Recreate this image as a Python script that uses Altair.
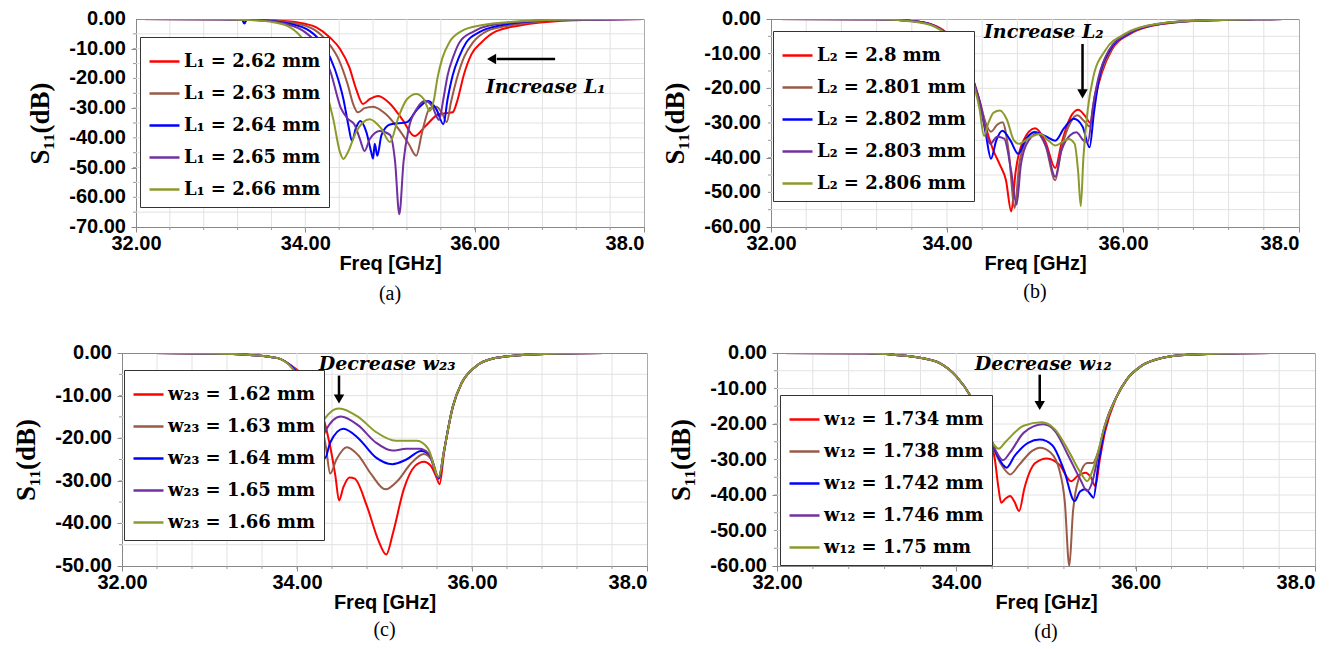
import altair as alt
import pandas as pd

SERIF = "Liberation Serif"
MATH = "DejaVu Serif"
SANS = "Liberation Sans"
COLORS = ["#FF0000", "#9A5A48", "#0000FF", "#7030A0", "#8C9A2C"]

X_LABELS = [32.0, 34.0, 36.0, 38.0]
X_GRID = [32.4, 32.8, 33.2, 33.6, 34.0, 34.4, 34.8, 35.2, 35.6, 36.0, 36.4, 36.8, 37.2, 37.6]
Y_LABELS_70 = [0, -10, -20, -30, -40, -50, -60, -70]
Y_TEXT_70 = ["0.00", "-10.00", "-20.00", "-30.00", "-40.00", "-50.00", "-60.00", "-70.00"]
Y_LABELS_60 = [0, -10, -20, -30, -40, -50, -60]
Y_TEXT_60 = ["0.00", "-10.00", "-20.00", "-30.00", "-40.00", "-50.00", "-60.00"]
Y_LABELS_50 = [0, -10, -20, -30, -40, -50]
Y_TEXT_50 = ["0.00", "-10.00", "-20.00", "-30.00", "-40.00", "-50.00"]
Y_GRID_70 = [-5, -10, -15, -20, -25, -30, -35, -40, -45, -50, -55, -60, -65]
Y_GRID_60 = [-5, -10, -15, -20, -25, -30, -35, -40, -45, -50, -55]
Y_GRID_50 = [-5, -10, -15, -20, -25, -30, -35, -40, -45]

# ---------------- panel (a) ----------------
A_LABELS = ["L₁ = 2.62 mm", "L₁ = 2.63 mm", "L₁ = 2.64 mm", "L₁ = 2.65 mm", "L₁ = 2.66 mm"]
A_262 = [(32.0, 0), (33.0, -0.05), (33.5, -0.3), (33.9, -1.1), (34.13, -2.8), (34.29, -6.2),
         (34.41, -10.1), (34.52, -16.3), (34.6, -23.6), (34.68, -28.6), (34.76, -27.0),
         (34.86, -25.9), (35.0, -28.5), (35.15, -34.0), (35.29, -39.4), (35.42, -36.0),
         (35.58, -32.0), (35.74, -31.4), (35.8, -27.0), (35.87, -19.0), (35.96, -12.0),
         (36.08, -7.9), (36.25, -4.2), (36.53, -2.2), (37.04, -0.6), (37.5, -0.2), (38.0, 0)]
A_263 = [(32.0, 0), (33.0, -0.05), (33.5, -0.4), (33.85, -1.3), (34.1, -3.5), (34.27, -8.0),
         (34.4, -14.0), (34.5, -22.0), (34.57, -29.0), (34.62, -31.4), (34.7, -30.0),
         (34.8, -29.5), (34.95, -32.0), (35.1, -37.0), (35.22, -42.0), (35.31, -46.0),
         (35.38, -38.0), (35.47, -30.0), (35.55, -29.5), (35.62, -32.0), (35.67, -34.7),
         (35.72, -28.0), (35.8, -19.0), (35.88, -12.5), (35.98, -7.9), (36.15, -4.0),
         (36.41, -2.2), (36.9, -0.6), (37.5, -0.15), (38.0, 0)]
A_264 = [(32.0, 0), (33.0, -0.05), (33.25, -0.2), (33.28, -1.5), (33.31, -0.2), (33.5, -0.5),
         (33.8, -1.5), (34.05, -4.0), (34.22, -9.0), (34.35, -17.0), (34.45, -27.0),
         (34.51, -36.0), (34.55, -41.0), (34.6, -36.5), (34.65, -34.3), (34.72, -38.0),
         (34.78, -45.0), (34.8, -47.0), (34.82, -42.0), (34.85, -46.0), (34.9, -39.0),
         (35.0, -35.5), (35.2, -34.7), (35.32, -30.5), (35.45, -27.6), (35.55, -30.5),
         (35.63, -35.4), (35.68, -27.0), (35.74, -19.0), (35.82, -12.5), (35.9, -7.9),
         (36.05, -4.5), (36.29, -2.2), (36.8, -0.6), (37.4, -0.15), (38.0, 0)]
A_265 = [(32.0, 0), (33.0, -0.05), (33.5, -0.5), (33.75, -1.5), (34.0, -4.5), (34.18, -10.0),
         (34.3, -18.0), (34.42, -30.0), (34.5, -33.5), (34.58, -35.5), (34.64, -40.0),
         (34.7, -44.4), (34.76, -40.5), (34.88, -37.7), (35.0, -39.0), (35.06, -48.0),
         (35.11, -65.7), (35.16, -48.0), (35.22, -37.0), (35.32, -30.0), (35.42, -27.5),
         (35.5, -29.5), (35.58, -34.0), (35.63, -27.0), (35.68, -19.0), (35.75, -12.5),
         (35.82, -7.9), (35.98, -4.3), (36.17, -2.2), (36.7, -0.6), (37.3, -0.15), (38.0, 0)]
A_266 = [(32.0, 0), (33.0, -0.05), (33.3, -0.3), (33.62, -1.1), (33.82, -2.8), (33.97, -6.7),
         (34.13, -14.6), (34.25, -24.7), (34.33, -33.7), (34.41, -44.9), (34.45, -47.1),
         (34.5, -45.0), (34.6, -38.0), (34.76, -33.7), (34.9, -37.0), (35.0, -41.4),
         (35.1, -33.0), (35.2, -27.0), (35.31, -25.2), (35.4, -27.0), (35.47, -31.0),
         (35.52, -27.0), (35.56, -20.0), (35.62, -13.0), (35.7, -7.9), (35.85, -4.0),
         (36.06, -2.2), (36.65, -0.6), (37.2, -0.15), (38.0, 0)]
A_TEXT = [(36.84, -23.0, "Increase L₁")]
A_ARROW = [(36.95, -13.5, 36.26, -13.5)]
A_HEAD = [(36.2, -13.5)]

# ---------------- panel (b) ----------------
B_LABELS = ["L₂ = 2.8 mm", "L₂ = 2.801 mm", "L₂ = 2.802 mm", "L₂ = 2.803 mm", "L₂ = 2.806 mm"]
B_2800 = [(32.0, 0), (33.2, -0.1), (33.6, -0.5), (33.85, -1.8), (34.0, -4.1), (34.1, -7.0),
          (34.23, -12.6), (34.31, -18.5), (34.38, -24.5), (34.44, -31.0), (34.52, -37.5),
          (34.6, -42.0), (34.67, -46.5), (34.73, -55.5), (34.78, -44.0), (34.86, -35.5),
          (35.0, -31.5), (35.12, -35.5), (35.23, -43.0), (35.3, -36.0), (35.4, -28.5),
          (35.49, -26.2), (35.57, -28.0), (35.63, -30.0), (35.69, -22.0), (35.76, -15.5),
          (35.87, -9.0), (36.08, -4.3), (36.34, -1.9), (36.85, -0.5), (37.5, -0.1), (38.0, 0)]
B_2801 = [(32.0, 0), (33.2, -0.1), (33.6, -0.6), (33.85, -1.9), (34.0, -4.2), (34.1, -7.1),
          (34.23, -12.8), (34.31, -18.6), (34.38, -24.5), (34.44, -30.0), (34.5, -32.5),
          (34.57, -30.5), (34.63, -29.8), (34.7, -38.0), (34.77, -54.5), (34.82, -42.0),
          (34.9, -35.0), (35.0, -32.5), (35.12, -36.5), (35.23, -46.5), (35.3, -37.5),
          (35.4, -30.0), (35.48, -27.8), (35.56, -29.5), (35.62, -31.0), (35.68, -22.0),
          (35.75, -15.5), (35.86, -9.0), (36.07, -4.3), (36.32, -1.9), (36.83, -0.5),
          (37.5, -0.1), (38.0, 0)]
B_2802 = [(32.0, 0), (33.2, -0.1), (33.6, -0.6), (33.85, -1.9), (34.0, -4.3), (34.1, -7.2),
          (34.23, -13.0), (34.31, -18.8), (34.38, -25.0), (34.44, -33.0), (34.5, -40.3),
          (34.56, -35.0), (34.63, -32.2), (34.72, -35.0), (34.81, -38.9), (34.9, -34.5),
          (35.0, -32.7), (35.12, -33.8), (35.23, -35.1), (35.33, -31.5), (35.44, -28.8),
          (35.54, -31.0), (35.62, -37.0), (35.67, -27.0), (35.73, -17.0), (35.85, -9.0),
          (36.06, -4.3), (36.31, -1.9), (36.81, -0.5), (37.5, -0.1), (38.0, 0)]
B_2803 = [(32.0, 0), (33.2, -0.1), (33.6, -0.6), (33.85, -1.9), (34.0, -4.3), (34.1, -7.2),
          (34.23, -13.0), (34.31, -18.8), (34.38, -25.0), (34.43, -31.0), (34.49, -36.0),
          (34.57, -34.0), (34.65, -34.5), (34.73, -44.0), (34.79, -53.5), (34.84, -42.0),
          (34.93, -35.0), (35.03, -33.0), (35.13, -37.0), (35.23, -45.5), (35.3, -38.0),
          (35.4, -33.5), (35.47, -32.7), (35.55, -35.0), (35.6, -35.5), (35.66, -25.0),
          (35.72, -17.0), (35.84, -9.0), (36.05, -4.3), (36.3, -1.9), (36.8, -0.5),
          (37.5, -0.1), (38.0, 0)]
B_2806 = [(32.0, 0), (33.2, -0.1), (33.6, -0.7), (33.85, -2.1), (34.0, -4.6), (34.1, -7.6),
          (34.23, -13.5), (34.31, -19.5), (34.37, -26.0), (34.42, -33.7), (34.47, -30.0),
          (34.53, -27.0), (34.6, -26.4), (34.68, -29.0), (34.76, -35.0), (34.82, -36.0),
          (34.92, -34.5), (35.06, -33.2), (35.15, -35.0), (35.23, -36.5), (35.31, -35.5),
          (35.38, -34.6), (35.45, -36.0), (35.49, -44.0), (35.52, -54.0), (35.55, -40.0),
          (35.6, -26.0), (35.66, -17.0), (35.8, -9.0), (36.02, -4.3), (36.28, -1.9),
          (36.78, -0.5), (37.5, -0.1), (38.0, 0)]
B_TEXT = [(35.1, -3.8, "Increase L₂")]
B_ARROW = [(35.54, -7.2, 35.54, -20.6)]
B_HEAD = [(35.54, -21.6)]

# ---------------- panel (c) ----------------
C_LABELS = ["w₂₃ = 1.62 mm", "w₂₃ = 1.63 mm", "w₂₃ = 1.64 mm", "w₂₃ = 1.65 mm", "w₂₃ = 1.66 mm"]
C_162 = [(32.0, 0), (33.0, -0.1), (33.5, -0.5), (33.78, -1.2), (33.94, -3.0), (34.05, -4.8),
         (34.18, -7.9), (34.3, -15.0), (34.38, -22.0), (34.44, -29.0), (34.48, -34.6),
         (34.53, -31.5), (34.6, -29.2), (34.66, -29.5), (34.8, -36.0), (34.93, -44.0),
         (35.02, -47.3), (35.1, -42.0), (35.22, -32.0), (35.35, -26.5), (35.45, -25.5),
         (35.53, -26.5), (35.59, -29.0), (35.63, -30.8), (35.68, -23.5), (35.78, -12.8),
         (35.88, -7.2), (36.04, -3.2), (36.24, -1.3), (36.63, -0.4), (37.2, -0.05), (38.0, 0)]
C_163 = [(32.0, 0), (33.0, -0.1), (33.5, -0.5), (33.78, -1.2), (33.94, -3.1), (34.04, -5.0),
         (34.15, -8.5), (34.26, -15.0), (34.33, -22.0), (34.38, -28.3), (34.45, -25.0),
         (34.57, -22.1), (34.7, -24.0), (34.85, -28.5), (35.01, -32.0), (35.15, -30.0),
         (35.3, -26.0), (35.45, -23.7), (35.55, -25.5), (35.62, -29.6), (35.68, -23.0),
         (35.78, -12.6), (35.88, -7.1), (36.04, -3.2), (36.24, -1.3), (36.63, -0.4),
         (37.2, -0.05), (38.0, 0)]
C_164 = [(32.0, 0), (33.0, -0.1), (33.5, -0.5), (33.78, -1.2), (33.94, -3.2), (34.03, -5.2),
         (34.13, -9.0), (34.22, -15.0), (34.28, -21.0), (34.32, -24.7), (34.38, -21.0),
         (34.53, -17.8), (34.7, -20.0), (34.9, -24.5), (35.09, -26.1), (35.25, -25.0),
         (35.42, -23.0), (35.52, -24.0), (35.62, -29.4), (35.68, -23.0), (35.78, -12.6),
         (35.88, -7.1), (36.04, -3.2), (36.24, -1.3), (36.63, -0.4), (37.2, -0.05), (38.0, 0)]
C_165 = [(32.0, 0), (33.0, -0.1), (33.5, -0.5), (33.78, -1.2), (33.94, -3.3), (34.02, -5.5),
         (34.11, -9.5), (34.19, -15.0), (34.23, -19.5), (34.26, -22.5), (34.32, -18.5),
         (34.5, -14.9), (34.7, -17.0), (34.9, -21.0), (35.09, -22.9), (35.25, -22.5),
         (35.4, -22.5), (35.5, -23.5), (35.62, -29.2), (35.68, -23.0), (35.78, -12.6),
         (35.88, -7.1), (36.04, -3.2), (36.24, -1.3), (36.63, -0.4), (37.2, -0.05), (38.0, 0)]
C_166 = [(32.0, 0), (33.0, -0.1), (33.5, -0.5), (33.78, -1.2), (33.94, -3.5), (34.02, -5.8),
         (34.1, -9.5), (34.16, -15.8), (34.2, -20.6), (34.27, -17.0), (34.48, -13.0),
         (34.7, -15.0), (34.9, -18.5), (35.13, -20.6), (35.37, -20.6), (35.5, -22.5),
         (35.62, -29.0), (35.68, -23.0), (35.78, -12.6), (35.88, -7.1), (36.04, -3.2),
         (36.24, -1.3), (36.63, -0.4), (37.2, -0.05), (38.0, 0)]
C_TEXT = [(35.03, -2.5, "Decrease w₂₃")]
C_ARROW = [(34.48, -5.3, 34.48, -10.0)]
C_HEAD = [(34.48, -10.8)]

# ---------------- panel (d) ----------------
D_LABELS = ["w₁₂ = 1.734 mm", "w₁₂ = 1.738 mm", "w₁₂ = 1.742 mm", "w₁₂ = 1.746 mm", "w₁₂ = 1.75 mm"]
D_1734 = [(32.0, 0), (33.0, -0.1), (33.3, -0.5), (33.61, -1.4), (33.81, -2.8), (34.0, -6.6),
          (34.16, -12.2), (34.27, -17.8), (34.37, -23.4), (34.43, -30.0), (34.47, -38.0),
          (34.5, -42.2), (34.55, -41.0), (34.6, -40.3), (34.65, -42.0), (34.7, -44.5),
          (34.76, -38.0), (34.88, -31.0), (35.01, -29.7), (35.15, -31.5), (35.28, -36.1),
          (35.36, -34.5), (35.44, -33.7), (35.5, -35.0), (35.55, -37.5), (35.6, -30.0),
          (35.66, -22.0), (35.78, -12.8), (35.9, -7.5), (36.06, -3.7), (36.29, -1.4),
          (36.6, -0.5), (37.18, -0.05), (38.0, 0)]
D_1738 = [(32.0, 0), (33.0, -0.1), (33.3, -0.5), (33.61, -1.4), (33.81, -2.8), (34.0, -6.6),
          (34.16, -12.2), (34.27, -17.8), (34.37, -23.4), (34.45, -29.0), (34.53, -32.5),
          (34.6, -34.2), (34.7, -31.5), (34.85, -27.5), (34.93, -26.7), (35.05, -28.0),
          (35.15, -33.0), (35.21, -42.0), (35.26, -60.0), (35.3, -45.0), (35.37, -35.0),
          (35.46, -31.0), (35.52, -31.0), (35.58, -28.0), (35.65, -21.0), (35.79, -12.2),
          (35.9, -7.5), (36.06, -3.7), (36.29, -1.4), (36.6, -0.5), (37.18, -0.05), (38.0, 0)]
D_1742 = [(32.0, 0), (33.0, -0.1), (33.3, -0.5), (33.61, -1.4), (33.81, -2.8), (34.0, -6.6),
          (34.16, -12.2), (34.27, -17.8), (34.37, -23.4), (34.45, -28.5), (34.52, -31.5),
          (34.56, -32.3), (34.65, -29.0), (34.8, -25.3), (34.93, -24.4), (35.07, -26.0),
          (35.2, -33.0), (35.32, -41.7), (35.38, -39.0), (35.44, -38.4), (35.5, -40.0),
          (35.53, -40.8), (35.58, -32.0), (35.65, -22.0), (35.79, -12.2), (35.9, -7.5),
          (36.06, -3.7), (36.29, -1.4), (36.6, -0.5), (37.18, -0.05), (38.0, 0)]
D_1746 = [(32.0, 0), (33.0, -0.1), (33.3, -0.5), (33.61, -1.4), (33.81, -2.8), (34.0, -6.6),
          (34.16, -12.2), (34.27, -17.8), (34.37, -23.4), (34.44, -27.5), (34.52, -30.2),
          (34.6, -28.0), (34.75, -22.5), (34.97, -20.1), (35.1, -22.0), (35.25, -29.0),
          (35.38, -35.5), (35.46, -38.9), (35.52, -36.0), (35.58, -29.0), (35.65, -21.0),
          (35.79, -12.2), (35.9, -7.5), (36.06, -3.7), (36.29, -1.4), (36.6, -0.5),
          (37.18, -0.05), (38.0, 0)]
D_1750 = [(32.0, 0), (33.0, -0.1), (33.3, -0.5), (33.61, -1.4), (33.81, -2.8), (34.0, -6.6),
          (34.16, -12.2), (34.27, -17.8), (34.37, -23.4), (34.43, -26.2), (34.47, -27.0),
          (34.55, -25.0), (34.75, -20.5), (34.95, -19.5), (35.1, -21.5), (35.25, -27.5),
          (35.38, -33.5), (35.46, -36.1), (35.52, -33.0), (35.58, -28.0), (35.65, -21.0),
          (35.79, -12.2), (35.9, -7.5), (36.06, -3.7), (36.29, -1.4), (36.6, -0.5),
          (37.18, -0.05), (38.0, 0)]
D_TEXT = [(34.97, -3.0, "Decrease w₁₂")]
D_ARROW = [(34.93, -6.1, 34.93, -14.0)]
D_HEAD = [(34.93, -14.8)]

X_LABEL_EXPR = "datum.value > 37.9 ? '38.0' : format(datum.value, '.2f')"


def panel(curves, labels, ymin, ylabels, ytext, ygrid, w, h, legend_xy, text, arrow, head,
          head_shape, caption, cap_dy):
    rows = []
    for lab, pts in zip(labels, curves):
        for f, v in pts:
            rows.append({"f": f, "s": v, "series": lab})
    df = pd.DataFrame(rows)
    xs = alt.Scale(domain=[32, 38], nice=False, zero=False)
    ys = alt.Scale(domain=[ymin, 0], nice=False, zero=False)
    xaxis = alt.Axis(values=X_LABELS, labelExpr=X_LABEL_EXPR, labelOverlap=False,
                     labelAlign={"expr": "datum.value > 37.9 ? 'right' : 'center'"},
                     title="Freq [GHz]", titleFont=SANS, titleFontSize=20, titleFontWeight="bold",
                     titlePadding=0, labelPadding=1, grid=False)
    yaxis = alt.Axis(values=ylabels, labels=False, title="S₁₁(dB)", titleFont=SERIF,
                     titleFontSize=27, titleFontWeight="bold", titlePadding=76, grid=False)
    vg = alt.Chart(pd.DataFrame({"f": X_GRID})).mark_rule(color="#e2e2e2", strokeWidth=1).encode(
        x=alt.X("f:Q", scale=xs, axis=xaxis), y=alt.value(0), y2=alt.value(h))
    hg = alt.Chart(pd.DataFrame({"s": ygrid})).mark_rule(color="#e2e2e2", strokeWidth=1).encode(
        y=alt.Y("s:Q", scale=ys, axis=yaxis), x=alt.value(0), x2=alt.value(w))
    vt = alt.Chart(pd.DataFrame({"f": X_GRID})).mark_rule(color="#999", strokeWidth=1).encode(
        x="f:Q", y=alt.value(h), y2=alt.value(h + 3))
    ht = alt.Chart(pd.DataFrame({"s": ygrid})).mark_rule(color="#999", strokeWidth=1).encode(
        y="s:Q", x=alt.value(-3), x2=alt.value(0))
    ylab = alt.Chart(pd.DataFrame({"s": ylabels, "lab": ytext})).mark_text(
        font=SANS, fontSize=20, fontWeight="bold", color="black", align="right",
        baseline="middle").encode(y="s:Q", x=alt.value(-10), text="lab:N")
    lines = alt.Chart(df).mark_line(strokeWidth=2, interpolate="monotone", clip=True).encode(
        x=alt.X("f:Q", scale=xs, axis=xaxis),
        y=alt.Y("s:Q", scale=ys, axis=yaxis),
        color=alt.Color("series:N", scale=alt.Scale(domain=labels, range=COLORS),
                        legend=alt.Legend(title=None, orient="none",
                                          legendX=legend_xy[0], legendY=legend_xy[1],
                                          symbolType="stroke", symbolSize=900,
                                          symbolStrokeWidth=2.5, labelFont=MATH,
                                          labelFontWeight="bold", labelFontSize=18,
                                          labelLimit=400, labelOffset=3, rowPadding=6,
                                          padding=8, strokeColor="#333",
                                          fillColor="white", labelColor="black")),
    )
    tdf = pd.DataFrame(text, columns=["f", "s", "t"])
    txt = alt.Chart(tdf).mark_text(font=MATH, fontSize=19, fontWeight="bold",
                                   fontStyle="italic", color="black").encode(
        x="f:Q", y="s:Q", text="t:N")
    adf = pd.DataFrame(arrow, columns=["f", "s", "f2", "s2"])
    arr = alt.Chart(adf).mark_rule(strokeWidth=2.5, color="black").encode(
        x="f:Q", y="s:Q", x2="f2:Q", y2="s2:Q")
    hdf = pd.DataFrame(head, columns=["f", "s"])
    hd = alt.Chart(hdf).mark_point(shape=head_shape, filled=True, color="black",
                                   size=110, opacity=1).encode(x="f:Q", y="s:Q")
    cdf = pd.DataFrame({"c": [caption]})
    cap = alt.Chart(cdf).mark_text(font=SERIF, fontSize=20, color="black").encode(
        text="c:N", x=alt.value(w / 2), y=alt.value(h + cap_dy))
    return alt.layer(vg, hg, vt, ht, ylab, lines, txt, arr, hd, cap).properties(width=w, height=h)


def spacer(w):
    return alt.Chart(pd.DataFrame({"c": [0]})).mark_point(opacity=0, size=1).encode(
        x=alt.value(w / 2), y=alt.value(0)).properties(
        width=w, height=1, view=alt.ViewBackground(stroke="transparent"))


pa = panel([A_262, A_263, A_264, A_265, A_266], A_LABELS, -70, Y_LABELS_70, Y_TEXT_70, Y_GRID_70,
           508, 208, (4, 18), A_TEXT, A_ARROW, A_HEAD, "triangle-left", "(a)", 67)
pb = panel([B_2800, B_2801, B_2802, B_2803, B_2806], B_LABELS, -60, Y_LABELS_60, Y_TEXT_60,
           Y_GRID_60, 528, 208, (2, 12), B_TEXT, B_ARROW, B_HEAD, "triangle-down", "(b)", 65)
pc = panel([C_162, C_163, C_164, C_165, C_166], C_LABELS, -50, Y_LABELS_50, Y_TEXT_50, Y_GRID_50,
           525, 213, (2, 17), C_TEXT, C_ARROW, C_HEAD, "triangle-down", "(c)", 64)
pd_ = panel([D_1734, D_1738, D_1742, D_1746, D_1750], D_LABELS, -60, Y_LABELS_60, Y_TEXT_60,
            Y_GRID_60, 538, 213, (3, 42), D_TEXT, D_ARROW, D_HEAD, "triangle-down", "(d)", 66)


def indep(c):
    return c.resolve_scale(x="independent", y="independent", color="independent").resolve_legend(
        color="independent")


top_inner = indep(alt.hconcat(pa, pb, spacing=16))
bottom_inner = indep(alt.hconcat(pc, pd_, spacing=19))
top = indep(alt.hconcat(spacer(15), top_inner, spacing=0))
bottom = indep(alt.hconcat(spacer(1), bottom_inner, spacing=0))

chart = indep(alt.vconcat(top, bottom, spacing=37)).properties(
    padding={"left": 1, "top": 0, "right": 5, "bottom": 5},
    background="white",
).configure_axis(
    labelFont=SANS, labelFontSize=20, labelFontWeight="bold", labelColor="black",
    tickSize=5, tickColor="#888", domainColor="#888", titleColor="black", labelOverlap=False,
).configure_view(stroke="#aaa", strokeWidth=1)

chart.save("out.html", embed_options={"renderer": "svg", "actions": False})
